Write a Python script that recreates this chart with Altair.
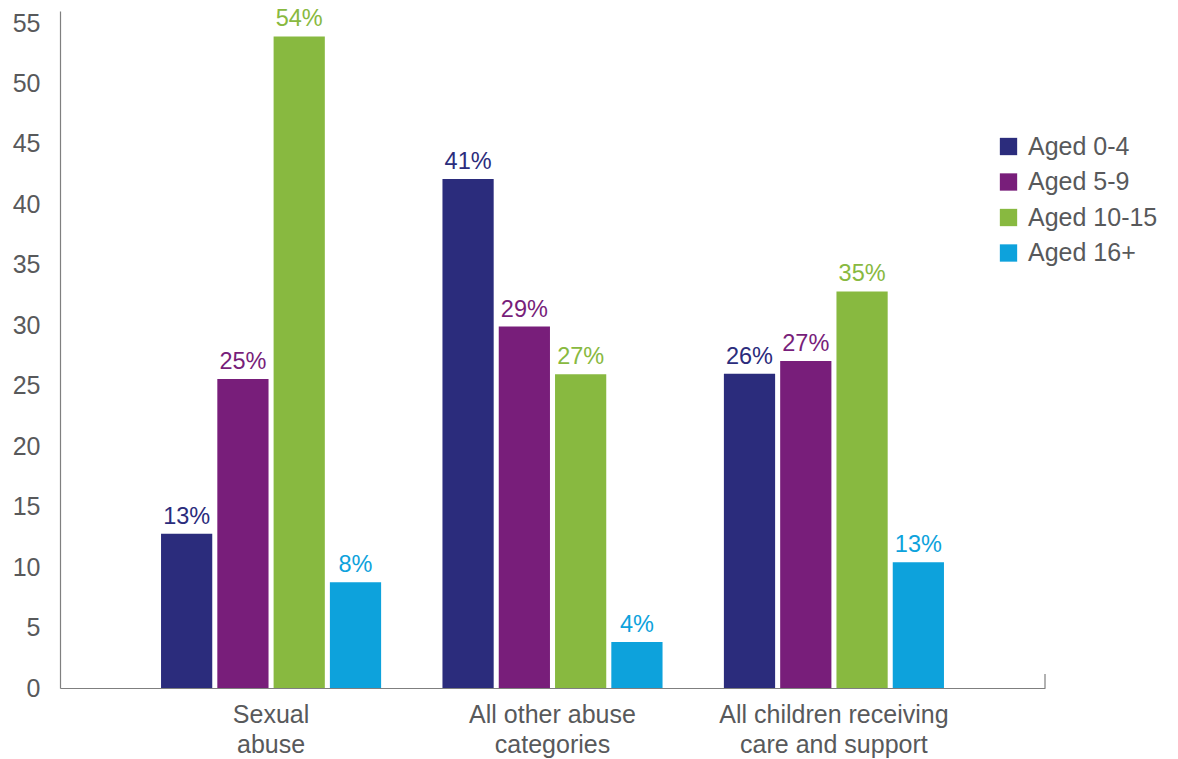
import altair as alt
import pandas as pd
import json

# ---- data ----
category_lines = [["Sexual", "abuse"],
                  ["All other abuse", "categories"],
                  ["All children receiving", "care and support"]]
categories = [" ".join(l) for l in category_lines]
groups = ["Aged 0-4", "Aged 5-9", "Aged 10-15", "Aged 16+"]
colors = ["#2b2c7c", "#781e7a", "#88b940", "#0da2dc"]

# bar heights (as drawn) per age group, in category order
aged_0_4 = [12.75, 42.1, 26.0]
aged_5_9 = [25.55, 29.9, 27.05]
aged_10_15 = [53.9, 25.95, 32.8]
aged_16 = [8.75, 3.8, 10.4]
# printed labels
lab_0_4 = ["13%", "41%", "26%"]
lab_5_9 = ["25%", "29%", "27%"]
lab_10_15 = ["54%", "27%", "35%"]
lab_16 = ["8%", "4%", "13%"]

y_ticks = [0, 5, 10, 15, 20, 25, 30, 35, 40, 45, 50, 55]

rows = []
for g, vals, labs in zip(groups, [aged_0_4, aged_5_9, aged_10_15, aged_16],
                         [lab_0_4, lab_5_9, lab_10_15, lab_16]):
    for c, v, l in zip(categories, vals, labs):
        rows.append({"category": c, "group": g, "value": v, "label": l})
df = pd.DataFrame(rows)

FONT = "Liberation Sans"
GRAY = "#58595b"
AXISLINE = "#7f7f7f"

label_map = {c: l for c, l in zip(categories, category_lines)}
label_expr = "{}[datum.label]".format(json.dumps(label_map))

x_enc = alt.X("category:N", sort=categories,
              scale=alt.Scale(paddingInner=0.218, paddingOuter=0.359),
              axis=alt.Axis(title=None, labelAngle=0, labelExpr=label_expr,
                            labelFont=FONT, labelFontSize=25, labelColor=GRAY,
                            labelLineHeight=30, labelPadding=14, labelLimit=500,
                            ticks=False, domainColor=AXISLINE, domainWidth=1.2,
                            labelBaseline="top"))
xoff = alt.XOffset("group:N", sort=groups,
                   scale=alt.Scale(paddingInner=0.09, paddingOuter=0))
color_enc = alt.Color("group:N", sort=groups,
                      scale=alt.Scale(domain=groups, range=colors),
                      legend=alt.Legend(title=None, orient="none",
                                        legendX=936, legendY=123,
                                        symbolType="square", symbolSize=300,
                                        symbolStrokeWidth=0,
                                        labelFont=FONT, labelFontSize=25,
                                        labelColor=GRAY, labelOffset=7,
                                        labelLimit=300,
                                        rowPadding=9.5, padding=0))
y_enc = alt.Y("value:Q",
              scale=alt.Scale(domain=[0, 56], nice=False),
              axis=alt.Axis(title=None, values=y_ticks, ticks=False, grid=False,
                            labelFont=FONT, labelFontSize=25, labelColor=GRAY,
                            labelPadding=20, domainColor=AXISLINE,
                            domainWidth=1.2))

base = alt.Chart(df)
bars = base.mark_bar().encode(x=x_enc, xOffset=xoff, y=y_enc, color=color_enc)
texts = base.mark_text(baseline="alphabetic", dy=-10, font=FONT,
                       fontSize=23.5).encode(
    x=x_enc, xOffset=xoff, y=y_enc,
    text="label:N",
    color=alt.Color("group:N", sort=groups,
                    scale=alt.Scale(domain=groups, range=colors), legend=None))
end_tick = alt.Chart(pd.DataFrame({"k": [0]})).mark_rule(
    color=AXISLINE, strokeWidth=1.2).encode(
    x=alt.value(985), y=alt.value(663), y2=alt.value(677))

chart = alt.layer(bars, texts, end_tick).properties(
    width=985, height=677,
    autosize=alt.AutoSizeParams(type="none"),
    padding={"left": 52, "top": 3, "right": 120, "bottom": 74},
    background="white",
).configure_view(stroke=None)

chart.save("out.html", embed_options={"renderer": "svg", "actions": False})
